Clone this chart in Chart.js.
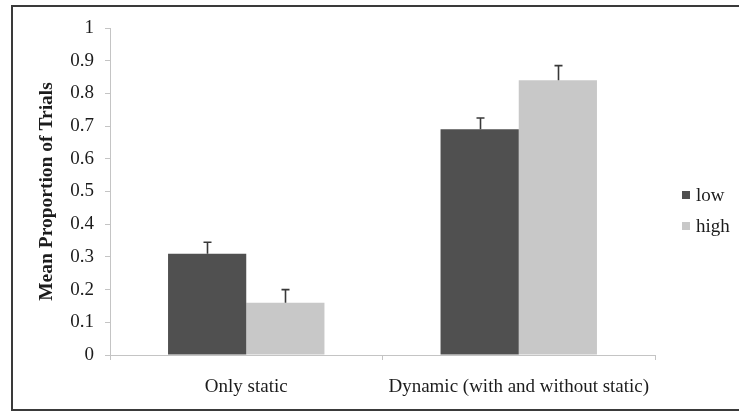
<!DOCTYPE html>
<html>
<head>
<meta charset="utf-8">
<script src="https://cdn.jsdelivr.net/npm/chart.js@4/dist/chart.umd.min.js"></script>
<style>
  html, body { margin: 0; padding: 0; background: #fff; overflow: hidden; }
  #wrap { position: relative; width: 739px; height: 413px; }
  #frame { position: absolute; left: 11px; top: 5px; width: 800px; height: 402px;
           border: 2px solid #3a3a3a; box-sizing: content-box; pointer-events: none; }
  canvas { position: absolute; left: 0; top: 0; }
</style>
</head>
<body>
<div id="wrap">
  <canvas id="c" width="739" height="413"></canvas>
  <div id="frame"></div>
</div>
<script>
// Categories and series
const categories = ['Only static', 'Dynamic (with and without static)'];
const seriesNames = ['low', 'high'];
const lowValues = [0.31, 0.69];
const highValues = [0.16, 0.84];
// Upper error (standard error) for each bar
const lowErrors = [0.035, 0.035];
const highErrors = [0.04, 0.045];
const yTicks = [0, 0.1, 0.2, 0.3, 0.4, 0.5, 0.6, 0.7, 0.8, 0.9, 1];

const FONT = '"Liberation Serif", "Times New Roman", serif';
const TEXT = '#1c1c1c';
const AXIS = '#c4c4c4';

// Draws the upward error whiskers on top of each bar
const errorBars = {
  id: 'errorBars',
  afterDatasetsDraw(chart) {
    const ctx = chart.ctx;
    const y = chart.scales.y;
    ctx.save();
    ctx.strokeStyle = '#383838';
    ctx.lineWidth = 1.6;
    chart.data.datasets.forEach((ds, di) => {
      const meta = chart.getDatasetMeta(di);
      meta.data.forEach((bar, i) => {
        const top = y.getPixelForValue(ds.data[i] + ds.errors[i]);
        const x = Math.round(bar.x) + 0.5;
        ctx.beginPath();
        ctx.moveTo(x, bar.y);
        ctx.lineTo(x, top);
        ctx.moveTo(x - 4, top);
        ctx.lineTo(x + 4, top);
        ctx.stroke();
      });
    });
    ctx.restore();
  }
};

// Legend at the right of the plot
const sideLegend = {
  id: 'sideLegend',
  afterDraw(chart) {
    const ctx = chart.ctx;
    ctx.save();
    ctx.font = '19px ' + FONT;
    ctx.textBaseline = 'middle';
    chart.data.datasets.forEach((ds, i) => {
      const cy = 195 + i * 31;
      ctx.fillStyle = ds.backgroundColor;
      ctx.fillRect(682, cy - 4, 8, 8);
      ctx.fillStyle = TEXT;
      ctx.fillText(ds.label, 696, cy + 1);
    });
    ctx.restore();
  }
};

new Chart(document.getElementById('c'), {
  type: 'bar',
  data: {
    labels: categories,
    datasets: [
      { label: seriesNames[0], data: lowValues, errors: lowErrors, backgroundColor: '#505050' },
      { label: seriesNames[1], data: highValues, errors: highErrors, backgroundColor: '#c8c8c8' }
    ]
  },
  options: {
    responsive: false,
    animation: false,
    devicePixelRatio: 1,
    layout: { padding: { left: 0, right: 84, top: 28, bottom: 0 } },
    datasets: { bar: { categoryPercentage: 0.574, barPercentage: 1.0 } },
    plugins: { legend: { display: false }, tooltip: { enabled: false } },
    scales: {
      x: {
        offset: true,
        grid: { offset: true, drawOnChartArea: false, color: AXIS, tickLength: 5 },
        border: { color: AXIS, width: 1 },
        ticks: { color: TEXT, font: { family: FONT, size: 19 }, padding: 16, maxRotation: 0 },
        afterFit(s) { s.height = 58; }
      },
      y: {
        min: 0, max: 1,
        afterBuildTicks(s) { s.ticks = yTicks.map(v => ({ value: v })); },
        grid: { drawOnChartArea: false, color: AXIS, tickLength: 5 },
        border: { color: AXIS, width: 1 },
        ticks: {
          color: TEXT, font: { family: FONT, size: 19 }, padding: 11,
          callback: v => String(Math.round(v * 10) / 10)
        },
        title: {
          display: true, text: 'Mean Proportion of Trials', color: TEXT,
          font: { family: FONT, size: 19.5, weight: 'bold' },
          padding: { top: 35, bottom: 0 }
        },
        afterFit(s) { s.width = 110; }
      }
    }
  },
  plugins: [errorBars, sideLegend]
});
</script>
</body>
</html>
